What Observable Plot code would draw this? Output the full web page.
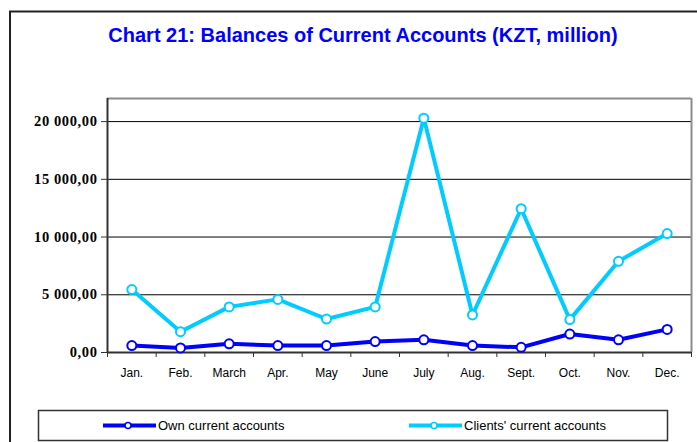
<!DOCTYPE html>
<html><head><meta charset="utf-8">
<script src="https://cdn.jsdelivr.net/npm/d3@7"></script>
<script src="https://cdn.jsdelivr.net/npm/@observablehq/plot@0.6"></script>
<style>
body{margin:0;background:#fff}
#chart svg{display:block}
</style>
</head><body><div id="chart"></div>
<script>
const months = ["Jan.","Feb.","March","Apr.","May","June","July","Aug.","Sept.","Oct.","Nov.","Dec."];
const ownAccounts = [600,400,750,600,600,950,1100,600,450,1600,1100,2000];
const clientsAccounts = [5450,1800,3950,4600,2900,3950,20300,3250,12450,2850,7900,10300];
const yTicks = [0,5000,10000,15000,20000];
const seriesNames = ["Own current accounts","Clients' current accounts"];
const seriesColors = ["#0000FF","#00CCFF"];
const titleText = "Chart 21: Balances of Current Accounts (KZT, million)";
const yMax = 22000;

const rows = [];
months.forEach((m, i) => {
  rows.push({month: m, idx: i + 0.5, value: ownAccounts[i], series: seriesNames[0]});
  rows.push({month: m, idx: i + 0.5, value: clientsAccounts[i], series: seriesNames[1]});
});
const own = rows.filter(d => d.series === seriesNames[0]);
const clients = rows.filter(d => d.series === seriesNames[1]);

const fmt = v => {
  const s = d3.format(",.2f")(v);
  return s.replace(/,/g, " ").replace(".", ",");
};
const sans = "'Liberation Sans',Arial,sans-serif";

const chart = Plot.plot({
  width: 697,
  height: 442,
  marginLeft: 107,
  marginRight: 6,
  marginTop: 98,
  marginBottom: 90,
  style: {background: "transparent", overflow: "visible"},
  x: {type: "linear", domain: [0, months.length], axis: null, label: null},
  y: {type: "linear", domain: [0, yMax], axis: null, label: null},
  marks: [
    Plot.gridY(yTicks.slice(1), {stroke: "#000", strokeOpacity: 1, strokeWidth: 1}),
    Plot.ruleY([yMax], {stroke: "#8c8c8c", strokeWidth: 2}),
    Plot.ruleX([months.length], {stroke: "#8c8c8c", strokeWidth: 2}),
    Plot.axisY(yTicks, {
      label: null, tickSize: 6, tickPadding: 4, tickFormat: fmt, stroke: "#333",
      fontFamily: "'Liberation Serif','Times New Roman',serif", fontWeight: "bold", fontSize: 14.5, fill: "#000"
    }),
    Plot.axisX(d3.range(months.length + 1), {label: null, tickSize: 5, tickFormat: () => "", stroke: "#333"}),
    Plot.axisX(months.map((m, i) => i + 0.5), {
      label: null, tickSize: 0, tickPadding: 16, tickFormat: d => months[Math.round(d - 0.5)],
      fontFamily: sans, fontSize: 12, fill: "#000"
    }),
    Plot.ruleX([0], {stroke: "#333", strokeWidth: 2}),
    Plot.ruleY([0], {stroke: "#333", strokeWidth: 2}),
    Plot.line(own, {x: "idx", y: "value", stroke: seriesColors[0], strokeWidth: 4}),
    Plot.line(clients, {x: "idx", y: "value", stroke: seriesColors[1], strokeWidth: 4}),
    Plot.dot(own, {x: "idx", y: "value", r: 4.5, fill: "#fff", stroke: seriesColors[0], strokeWidth: 2}),
    Plot.dot(clients, {x: "idx", y: "value", r: 4.5, fill: "#fff", stroke: seriesColors[1], strokeWidth: 2})
  ]
});

const svg = d3.select(chart);
svg.selectAll("g[aria-label='y-axis tick label'] text").attr("letter-spacing", 0.6);
svg.insert("rect", ":first-child")
  .attr("x", 10).attr("y", 11.5).attr("width", 700).attr("height", 440)
  .attr("fill", "none").attr("stroke", "#222").attr("stroke-width", 2);
svg.append("text")
  .attr("x", 363).attr("y", 42).attr("text-anchor", "middle")
  .attr("font-family", sans).attr("font-weight", "bold")
  .attr("font-size", 20).attr("fill", "#0000FF").text(titleText);

const lg = svg.append("g").attr("text-anchor", "start");
lg.append("rect").attr("x", 38.5).attr("y", 410.5).attr("width", 629).attr("height", 30)
  .attr("fill", "#fff").attr("stroke", "#333").attr("stroke-width", 1.5);
const lx = [103, 409];
seriesNames.forEach((name, i) => {
  const g = lg.append("g");
  g.append("line").attr("x1", lx[i]).attr("x2", lx[i] + 53).attr("y1", 425.5).attr("y2", 425.5)
    .attr("stroke", seriesColors[i]).attr("stroke-width", 4);
  g.append("circle").attr("cx", lx[i] + 25).attr("cy", 425.5).attr("r", 3)
    .attr("fill", "#fff").attr("stroke", seriesColors[i]).attr("stroke-width", 1.5);
  g.append("text").attr("x", lx[i] + 55).attr("y", 430)
    .attr("text-anchor", "start")
    .attr("font-family", sans).attr("font-size", 13).attr("fill", "#000").text(name);
});

document.getElementById("chart").appendChild(chart);
</script>
</body></html>
